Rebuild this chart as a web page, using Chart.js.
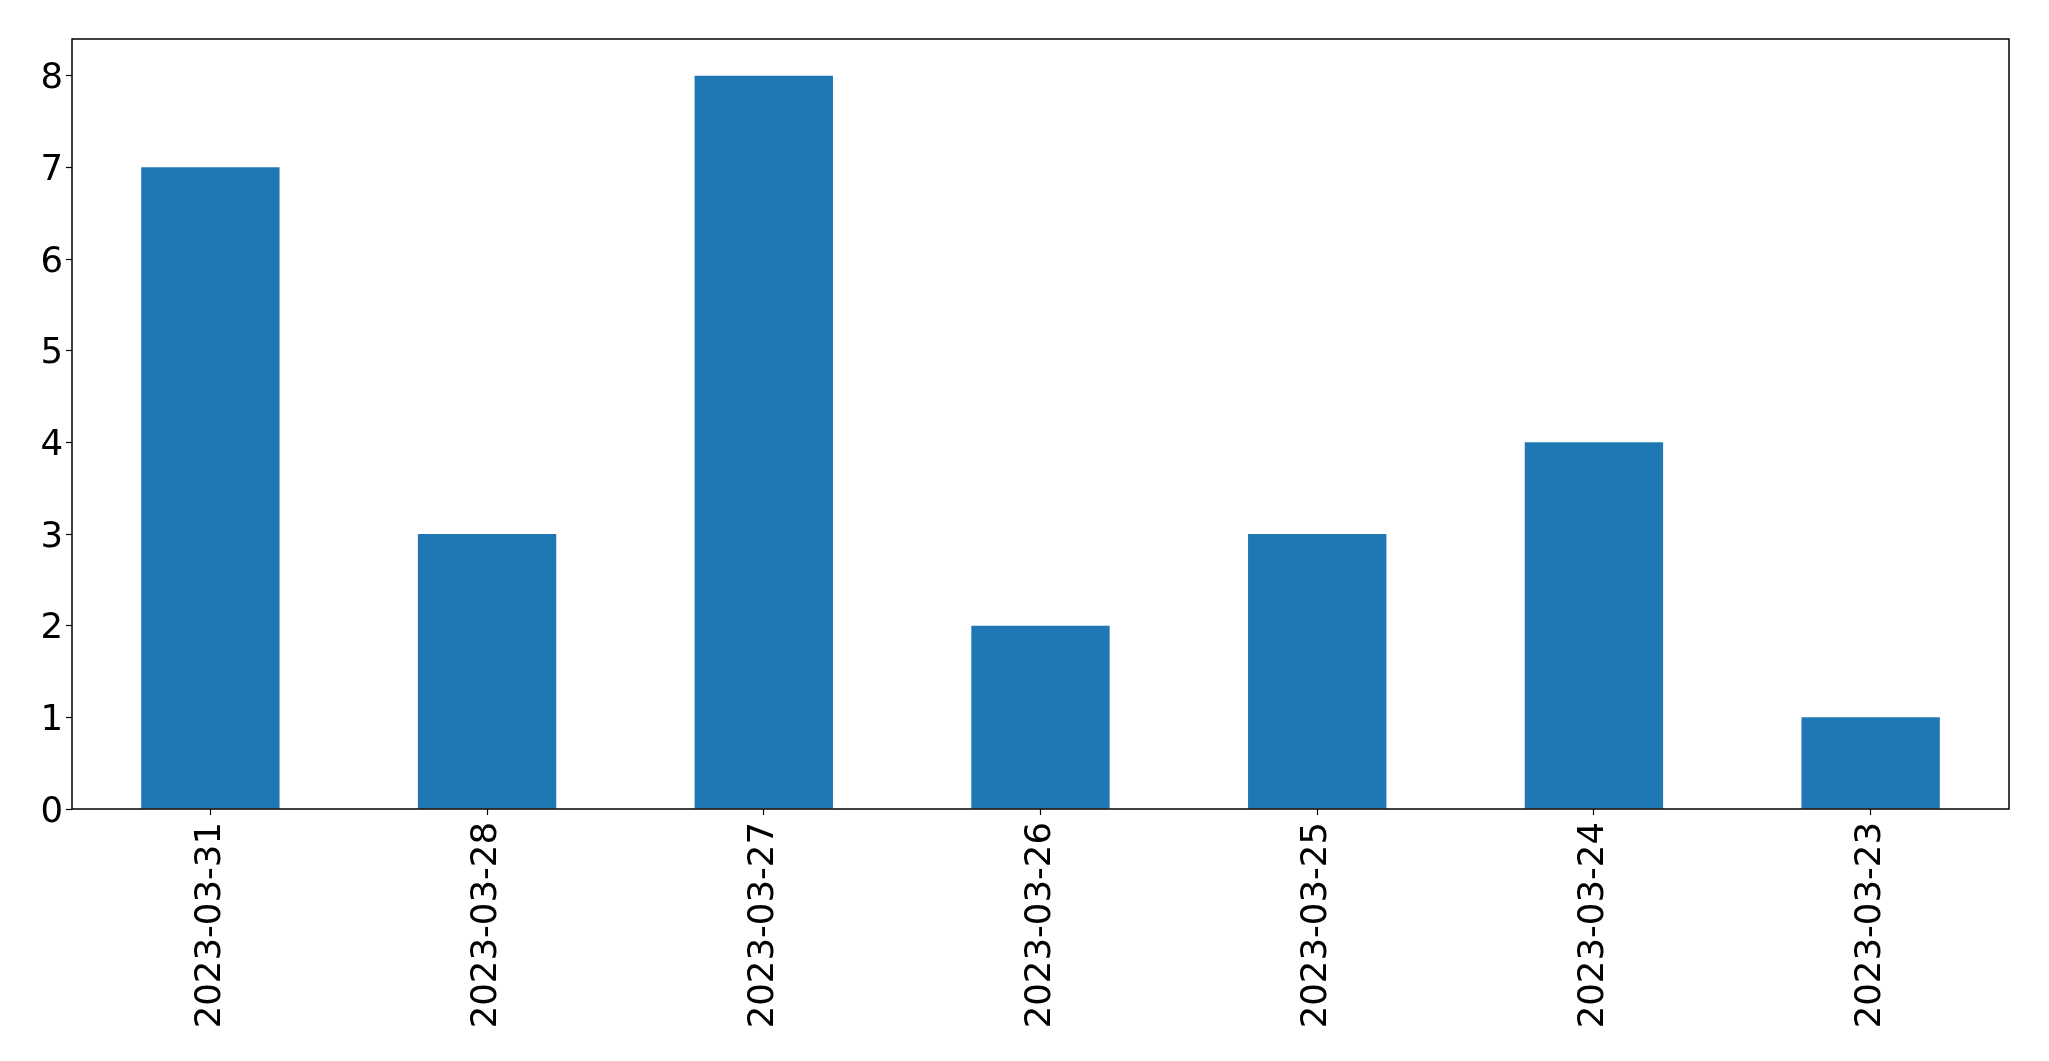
<!DOCTYPE html>
<html>
<head>
<meta charset="utf-8">
<script src="https://cdn.jsdelivr.net/npm/chart.js@4"></script>
<style>
  html, body { margin: 0; padding: 0; background: #ffffff; }
  #wrap { width: 2049px; height: 1061px; }
</style>
</head>
<body>
<div id="wrap"><canvas id="c" width="2049" height="1061"></canvas></div>
<script>
const categories = ["2023-03-31", "2023-03-28", "2023-03-27", "2023-03-26", "2023-03-25", "2023-03-24", "2023-03-23"];
const values = [7, 3, 8, 2, 3, 4, 1];
const yTicks = [0, 1, 2, 3, 4, 5, 6, 7, 8];

const FONT = "'DejaVu Sans', sans-serif";

const frame = {
  id: 'frame',
  afterDatasetsDraw(chart) {
    const a = chart.chartArea;
    const ctx = chart.ctx;
    ctx.save();
    ctx.strokeStyle = '#000000';
    ctx.lineWidth = 1.5;
    ctx.strokeRect(a.left, a.top, a.right - a.left, a.bottom - a.top);
    ctx.restore();
  }
};

new Chart(document.getElementById('c'), {
  type: 'bar',
  data: {
    labels: categories,
    datasets: [{
      data: values,
      backgroundColor: '#1f77b4',
      borderWidth: 0,
      barPercentage: 0.5,
      categoryPercentage: 1.0
    }]
  },
  options: {
    responsive: false,
    animation: false,
    layout: { padding: { left: 0, right: 40, top: 39, bottom: 0 } },
    plugins: { legend: { display: false }, tooltip: { enabled: false } },
    scales: {
      x: {
        offset: true,
        grid: { display: true, offset: false, drawOnChartArea: false, drawTicks: true, tickLength: 6, tickColor: '#000000', tickWidth: 1.2 },
        border: { display: false },
        ticks: {
          color: '#000000',
          font: { family: FONT, size: 35.5 },
          minRotation: 90, maxRotation: 90,
          padding: 7,
          autoSkip: false
        },
        afterFit(scale) { scale.height = 1061 - 809; }
      },
      y: {
        min: 0, max: 8.4,
        afterBuildTicks(scale) { scale.ticks = yTicks.map(v => ({ value: v })); },
        grid: { display: true, drawOnChartArea: false, drawTicks: true, tickLength: 6, tickColor: '#000000', tickWidth: 1.2 },
        border: { display: false },
        ticks: {
          color: '#000000',
          font: { family: FONT, size: 35.5 },
          padding: 3,
          labelOffset: 3.5,
          callback: (v) => String(v)
        },
        afterFit(scale) { scale.width = 72; }
      }
    }
  },
  plugins: [frame]
});
</script>
</body>
</html>
